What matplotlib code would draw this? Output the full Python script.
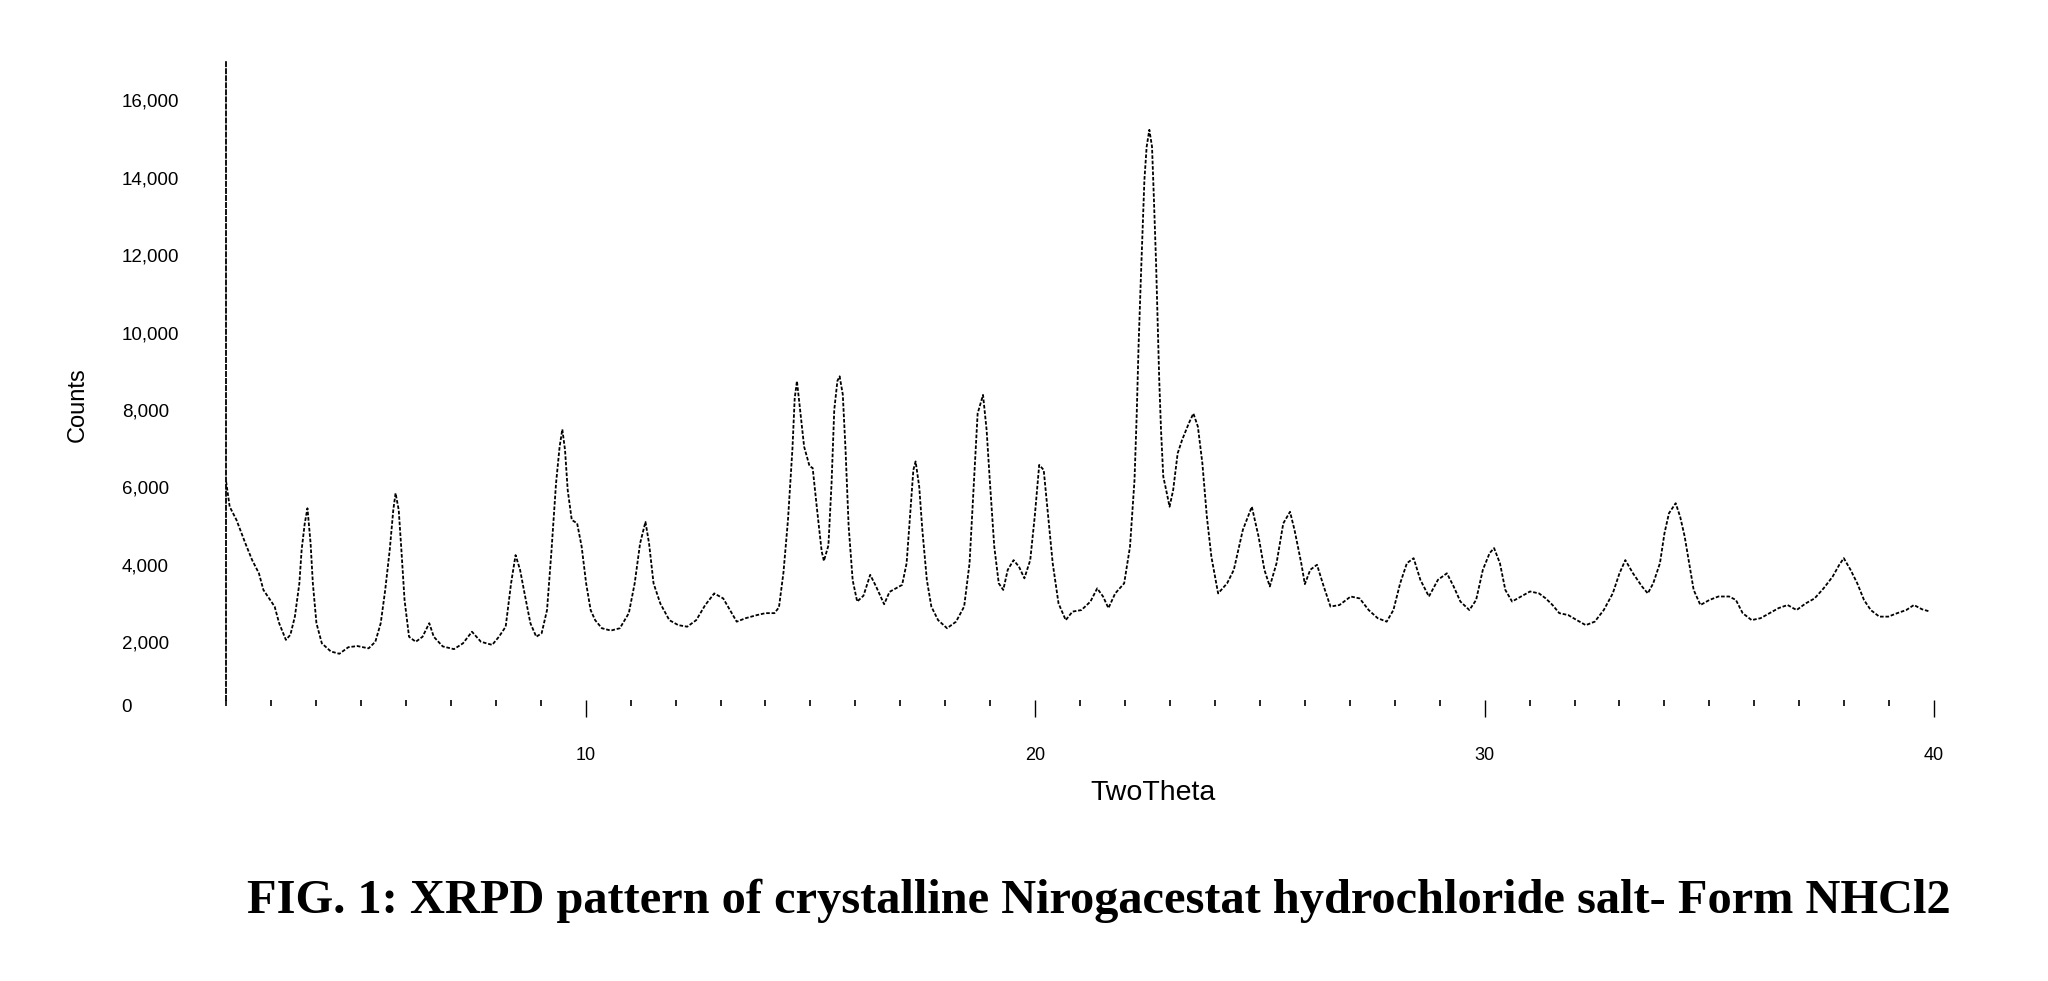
import matplotlib
matplotlib.use("Agg")
import matplotlib.pyplot as plt
from matplotlib.ticker import FixedLocator, MultipleLocator

# XRPD pattern, values
two_theta = [
    2.00, 2.08, 2.23, 2.43, 2.58, 2.73, 2.83, 2.98, 3.08, 3.18, 3.33, 3.43, 3.53, 3.63, 3.68,
    3.75, 3.81, 3.88, 3.93, 4.01, 4.13, 4.33, 4.52, 4.72, 4.92, 5.17, 5.32, 5.44, 5.54, 5.64,
    5.72, 5.77, 5.84, 5.90, 5.97, 6.07, 6.22, 6.37, 6.52, 6.62, 6.82, 7.07, 7.27, 7.47, 7.67,
    7.92, 8.07, 8.22, 8.34, 8.44, 8.54, 8.64, 8.77, 8.90, 9.02, 9.14, 9.24, 9.34, 9.42, 9.48,
    9.54, 9.60, 9.69, 9.81, 9.91, 10.01, 10.11, 10.21, 10.36, 10.56, 10.76, 10.96, 11.09, 11.21,
    11.33, 11.41, 11.51, 11.66, 11.86, 12.06, 12.26, 12.46, 12.66, 12.86, 13.06, 13.21, 13.36,
    13.56, 13.81, 14.00, 14.20, 14.30, 14.40, 14.50, 14.60, 14.65, 14.70, 14.78, 14.86, 14.98,
    15.05, 15.15, 15.25, 15.30, 15.40, 15.47, 15.53, 15.60, 15.65, 15.72, 15.78, 15.85, 15.94,
    16.04, 16.18, 16.33, 16.46, 16.64, 16.76, 16.90, 17.04, 17.14, 17.22, 17.29, 17.34, 17.42,
    17.49, 17.59, 17.69, 17.84, 18.04, 18.24, 18.42, 18.54, 18.64, 18.72, 18.84, 18.92, 18.99,
    19.09, 19.19, 19.29, 19.39, 19.52, 19.64, 19.76, 19.89, 19.99, 20.09, 20.19, 20.29, 20.39,
    20.52, 20.68, 20.83, 21.03, 21.23, 21.38, 21.51, 21.63, 21.78, 21.98, 22.11, 22.21, 22.26,
    22.30, 22.35, 22.39, 22.43, 22.48, 22.54, 22.60, 22.64, 22.69, 22.73, 22.76, 22.80, 22.85,
    22.92, 22.99, 23.07, 23.17, 23.27, 23.42, 23.52, 23.62, 23.72, 23.82, 23.92, 24.07, 24.27,
    24.42, 24.62, 24.82, 24.97, 25.10, 25.22, 25.37, 25.52, 25.67, 25.77, 25.92, 26.00, 26.12,
    26.27, 26.42, 26.57, 26.77, 27.02, 27.22, 27.42, 27.62, 27.82, 27.97, 28.12, 28.27, 28.42,
    28.57, 28.76, 28.96, 29.16, 29.31, 29.46, 29.66, 29.81, 29.96, 30.11, 30.21, 30.34, 30.46,
    30.61, 30.81, 31.01, 31.21, 31.36, 31.51, 31.66, 31.86, 32.05, 32.25, 32.45, 32.65, 32.85,
    33.00, 33.13, 33.30, 33.50, 33.63, 33.75, 33.90, 34.00, 34.10, 34.25, 34.35, 34.45, 34.55,
    34.65, 34.80, 35.00, 35.20, 35.44, 35.59, 35.74, 35.94, 36.14, 36.34, 36.54, 36.74, 36.94,
    37.14, 37.34, 37.54, 37.74, 37.89, 37.99, 38.14, 38.29, 38.44, 38.59, 38.78, 38.98, 39.18,
    39.38, 39.55, 39.73, 39.91,
]
counts = [
    6150, 5500, 5160, 4550, 4120, 3780, 3350, 3090, 2920, 2490, 2060, 2190, 2660, 3520, 4380,
    5070, 5460, 4550, 3520, 2490, 1970, 1760, 1700, 1870, 1900, 1840, 2010, 2490, 3350, 4380,
    5420, 5850, 5420, 4380, 3090, 2140, 2010, 2140, 2490, 2140, 1890, 1820, 1970, 2270, 2010,
    1930, 2140, 2400, 3520, 4250, 3870, 3260, 2490, 2140, 2230, 2830, 4380, 6100, 7050, 7500,
    6970, 5930, 5160, 5070, 4470, 3520, 2830, 2570, 2360, 2300, 2360, 2750, 3520, 4550,
    5110, 4550, 3520, 3000, 2570, 2440, 2400, 2570, 2960, 3260, 3130, 2830, 2530,
    2620, 2700, 2750, 2750, 2900, 3800, 5150, 7000, 8300, 8750, 7900, 7050, 6550,
    6500, 5400, 4350, 4100, 4500, 6100, 8000, 8750, 8870, 8400, 7000, 5000, 3600,
    3050, 3200, 3740, 3440, 2980, 3300, 3390, 3480, 4040, 5330, 6450, 6670, 6020,
    4900, 3610, 2920, 2570, 2360, 2530, 2920, 4040, 6190, 7910, 8390, 7480, 6190,
    4470, 3520, 3350, 3870, 4120, 3950, 3650, 4120, 5240, 6580, 6450, 5240, 4040,
    3000, 2570, 2790, 2830, 3050, 3390, 3180, 2880, 3260, 3520, 4470, 6190, 7910,
    9640, 11360, 12650, 13940, 14800, 15240, 14800, 13510, 11790, 10070, 8780, 7480, 6280,
    5900, 5500, 5930, 6880, 7230, 7660, 7910, 7570, 6620, 5240, 4210, 3260, 3520,
    3870, 4900, 5500, 4730, 3870, 3440, 4040, 5070, 5370, 4900, 4040, 3500, 3870,
    4000, 3440, 2920, 2960, 3180, 3130, 2830, 2620, 2530, 2830, 3520, 4040, 4170,
    3610, 3180, 3610, 3780, 3440, 3050, 2830, 3090, 3870, 4300, 4430, 4040, 3350,
    3050, 3180, 3310, 3260, 3130, 2960, 2750, 2700, 2570, 2440, 2530, 2830, 3260,
    3780, 4120, 3780, 3440, 3260, 3520, 4040, 4810, 5330, 5590, 5240, 4730, 4040,
    3350, 2960, 3090, 3180, 3180, 3090, 2750, 2570, 2620, 2750, 2880, 2960, 2830,
    3000, 3130, 3390, 3690, 4000, 4170, 3870, 3520, 3090, 2830, 2660, 2660, 2750,
    2830, 2960, 2850, 2790,
]
y_ticks = [2000, 4000, 6000, 8000, 10000, 12000, 14000, 16000]
x_major = [10, 20, 30, 40]

title = "FIG. 1: XRPD pattern of crystalline Nirogacestat hydrochloride salt- Form NHCl2"

plt.rcParams['font.family'] = ['Liberation Sans', 'DejaVu Sans']

fig = plt.figure(figsize=(20.48, 9.81), dpi=100)
ax = fig.add_axes([0.1104, 0.2665, 0.8340, 0.6706])

ax.plot(two_theta, counts, color='black', lw=1.3, linestyle=(0, (2, 1)))

ax.set_xlim(2, 40)
ax.set_ylim(0, 17000)

for side in ['top', 'right']:
    ax.spines[side].set_visible(False)
ax.spines['bottom'].set_position(('data', 500))
ax.spines['bottom'].set_linewidth(0)
ax.spines['left'].set_linestyle((0, (2.3, 1.6)))
ax.spines['left'].set_linewidth(1.3)
ax.spines['left'].set_bounds(500, 17000)

ax.xaxis.set_major_locator(FixedLocator(x_major))
ax.xaxis.set_minor_locator(MultipleLocator(1))
ax.tick_params(axis='x', which='major', length=12, width=1, pad=22, labelsize=13)
ax.tick_params(axis='x', which='minor', length=4, width=1.2)

ax.set_yticks(y_ticks)
ax.set_yticklabels([f"{v:,}" for v in y_ticks])
ax.tick_params(axis='y', length=0, pad=75, labelsize=13.5)
for lbl in ax.get_yticklabels():
    lbl.set_horizontalalignment('left')
# zero label sits a little above the tick grid in the original
ax.text(-0.0615, 0.019, "0", transform=ax.transAxes, ha='left', va='center', fontsize=13.5)

ax.text(0.5427, -0.112, "TwoTheta", transform=ax.transAxes, ha='center', va='center', fontsize=20.5)
ax.text(-0.0867, 0.478, "Counts", transform=ax.transAxes, ha='center', va='center',
        rotation=90, fontsize=17)

fig.text(0.5364, 0.0815, title, ha='center', va='center', fontsize=34.8,
         fontweight='bold', family='Liberation Serif')

fig.savefig("out.png", dpi=100)
